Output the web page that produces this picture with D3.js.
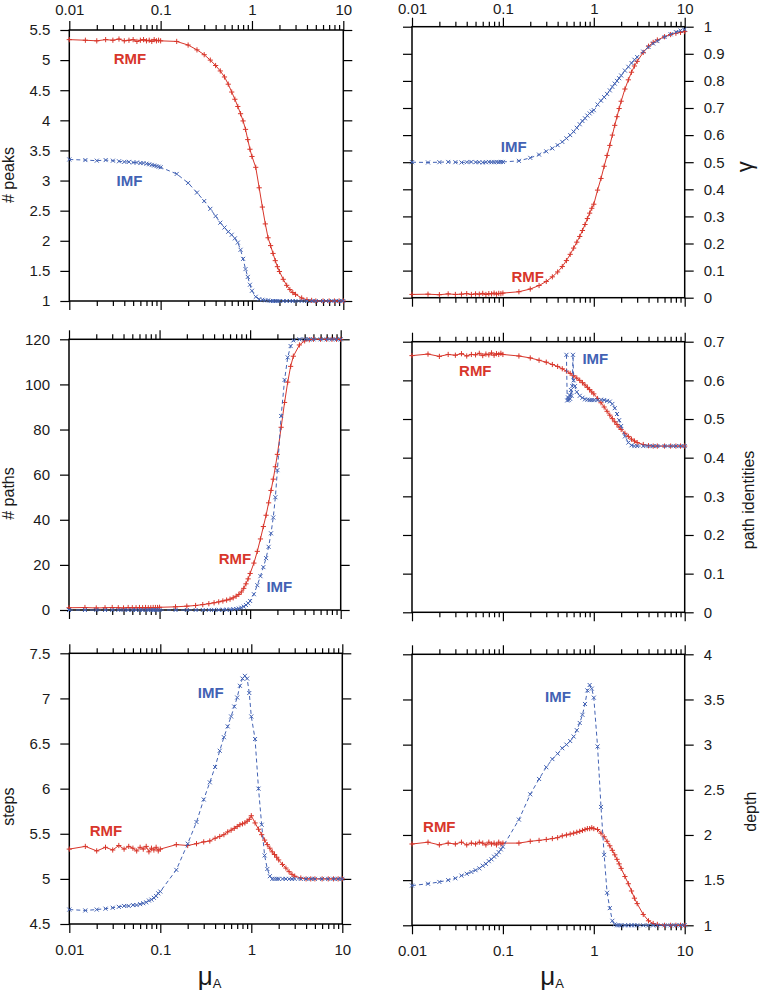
<!DOCTYPE html>
<html><head><meta charset="utf-8">
<script src="https://cdn.jsdelivr.net/npm/d3@7"></script>
<style>body{margin:0;background:#fff}svg{display:block}</style>
</head><body>
<svg id="c" width="764" height="993"></svg>
<script>
// ---------- data ----------
const mu = [0.01,0.015,0.02,0.025,0.03,0.035,0.04,0.045,0.05,0.055,0.06,0.065,0.07,0.075,0.08,0.085,0.09,0.095,
 0.1,0.15,0.2,0.25,0.3,0.35,0.4,0.45,0.5,0.55,0.6,0.65,0.7,0.75,0.8,0.85,0.9,0.95,
 1,1.1,1.2,1.3,1.4,1.5,1.6,1.7,1.8,1.9,2,2.2,2.4,2.6,2.8,3,3.5,4,4.5,5,6,7,8,9,10];

const peaksRMF = [5.34,5.33,5.32,5.34,5.33,5.35,5.32,5.33,5.34,5.31,5.33,5.34,5.32,5.33,5.31,5.34,5.32,5.33,
 5.32,5.31,5.25,5.17,5.09,5.00,4.91,4.82,4.72,4.60,4.47,4.35,4.23,4.11,3.99,3.85,3.68,3.52,
 3.40,3.22,2.88,2.56,2.28,2.05,1.92,1.79,1.67,1.57,1.49,1.36,1.26,1.19,1.14,1.11,1.05,1.02,1.01,1.0,1.0,1.0,1.0,1.0,1.0];
const peaksIMF = [3.35,3.34,3.33,3.34,3.33,3.32,3.31,3.31,3.30,3.30,3.29,3.29,3.28,3.27,3.26,3.25,3.24,3.23,
 3.22,3.11,2.96,2.80,2.66,2.53,2.41,2.30,2.22,2.15,2.10,2.04,1.97,1.85,1.70,1.53,1.40,1.27,
 1.17,1.07,1.03,1.02,1.01,1.01,1.0,1.0,1.0,1.0,1.0,1.0,1.0,1.0,1.0,1.0,1.0,1.0,1.0,1.0,1.0,1.0,1.0,1.0,1.0];

const gammaRMF = [0.012,0.013,0.011,0.014,0.012,0.013,0.015,0.012,0.014,0.013,0.016,0.012,0.015,0.014,0.017,0.013,0.016,0.015,
 0.017,0.022,0.032,0.045,0.060,0.077,0.095,0.115,0.137,0.160,0.183,0.205,0.226,0.248,0.270,0.292,0.312,0.330,
 0.345,0.397,0.440,0.485,0.525,0.562,0.600,0.636,0.668,0.698,0.725,0.770,0.804,0.832,0.855,0.872,0.905,0.928,0.942,0.951,0.963,0.971,0.976,0.979,0.982];
const gammaIMF = [0.500,0.499,0.500,0.501,0.500,0.499,0.500,0.501,0.500,0.500,0.499,0.500,0.501,0.500,0.500,0.501,0.500,0.501,
 0.501,0.505,0.516,0.528,0.540,0.551,0.563,0.575,0.588,0.600,0.613,0.627,0.640,0.652,0.662,0.672,0.680,0.687,
 0.692,0.713,0.727,0.740,0.752,0.765,0.778,0.790,0.800,0.810,0.820,0.838,0.852,0.866,0.878,0.888,0.908,0.925,0.938,0.947,0.962,0.972,0.980,0.986,0.990];

const pathsRMF = [1.0,1.1,0.9,1.0,1.1,1.0,0.9,1.1,1.0,1.0,1.1,1.0,1.1,1.0,1.0,1.1,1.1,1.1,
 1.2,1.4,1.7,2.0,2.4,2.8,3.2,3.6,4.0,4.4,4.8,5.4,6.1,6.9,8.0,9.6,11.6,13.8,
 16.2,20.8,26,31.5,37,42,47.5,53,58,63.5,69,81,92,101,108,112.5,117.5,119.3,119.8,120,120,120,120,120,120];
const pathsIMF = [0,0,0,0,0,0,0,0,0,0,0,0,0,0,0,0,0,0,
 0,0,0,0,0,0.02,0.04,0.06,0.1,0.15,0.22,0.32,0.45,0.65,1.0,1.5,2.2,3.0,
 4.0,7,11,15,19,23,28,34,41,50,62,86,102,112,117,119.5,120,120,120,120,120,120,120,120,120];

const pidRMF = [0.664,0.668,0.662,0.667,0.665,0.669,0.663,0.667,0.666,0.670,0.664,0.668,0.666,0.671,0.665,0.669,0.667,0.670,
 0.667,0.663,0.658,0.652,0.647,0.641,0.636,0.630,0.624,0.618,0.612,0.606,0.600,0.594,0.588,0.582,0.576,0.570,
 0.565,0.553,0.542,0.531,0.520,0.510,0.501,0.493,0.486,0.479,0.473,0.463,0.455,0.448,0.443,0.439,0.434,0.431,0.430,0.430,0.430,0.430,0.430,0.430,0.430];
const muPidIMF = [0.50,0.51,0.52,0.53,0.54,0.55,0.56,0.57,0.58,0.59,0.6,0.62,0.65,0.7,0.75,0.8,0.85,0.9,0.95,
 1,1.1,1.2,1.3,1.4,1.5,1.6,1.7,1.8,1.9,2,2.2,2.4,2.6,2.8,3,3.5,4,4.5,5,6,7,8,9,10];
const pidIMF = [0.666,0.548,0.556,0.549,0.562,0.552,0.575,0.560,0.585,0.666,0.600,0.585,0.570,0.560,0.555,0.551,0.550,0.549,0.549,
 0.549,0.549,0.550,0.549,0.547,0.545,0.539,0.528,0.513,0.497,0.482,0.455,0.439,0.432,0.430,0.430,0.430,0.430,0.430,0.430,0.430,0.430,0.430,0.430,0.430];

const stepsRMF = [5.33,5.36,5.31,5.35,5.32,5.37,5.33,5.36,5.34,5.31,5.35,5.33,5.36,5.30,5.34,5.32,5.35,5.31,
 5.33,5.38,5.37,5.39,5.41,5.42,5.45,5.47,5.49,5.52,5.54,5.56,5.58,5.60,5.61,5.62,5.64,5.66,
 5.70,5.62,5.55,5.49,5.43,5.38,5.34,5.30,5.27,5.24,5.21,5.16,5.12,5.08,5.05,5.03,5.01,5.0,5.0,5.0,5.0,5.0,5.0,5.0,5.0];
const stepsIMF = [4.66,4.65,4.66,4.67,4.68,4.69,4.70,4.70,4.71,4.71,4.72,4.73,4.74,4.76,4.77,4.79,4.81,4.84,
 4.86,5.10,5.39,5.63,5.88,6.07,6.24,6.42,6.57,6.69,6.80,6.91,7.01,7.14,7.22,7.25,7.22,7.06,
 6.80,6.55,6.00,5.60,5.26,5.11,5.03,5.00,5.0,5.0,5.0,5.0,5.0,5.0,5.0,5.0,5.0,5.0,5.0,5.0,5.0,5.0,5.0,5.0,5.0];

const depthRMF = [1.90,1.92,1.89,1.91,1.90,1.92,1.89,1.91,1.90,1.92,1.91,1.89,1.92,1.90,1.91,1.89,1.92,1.90,
 1.91,1.91,1.93,1.94,1.95,1.96,1.97,1.99,2.00,2.01,2.02,2.03,2.04,2.05,2.06,2.07,2.07,2.08,
 2.07,2.06,2.02,1.98,1.93,1.88,1.83,1.78,1.73,1.68,1.63,1.54,1.46,1.38,1.30,1.24,1.12,1.05,1.02,1.01,1.0,1.0,1.0,1.0,1.0];
const depthIMF = [1.44,1.46,1.48,1.50,1.52,1.55,1.57,1.59,1.61,1.63,1.66,1.68,1.71,1.73,1.76,1.78,1.81,1.84,
 1.87,2.17,2.45,2.62,2.75,2.84,2.90,2.96,3.00,3.04,3.09,3.16,3.24,3.33,3.45,3.60,3.66,3.62,
 3.52,2.98,2.31,1.78,1.36,1.19,1.05,1.01,1.0,1.0,1.0,1.0,1.0,1.0,1.0,1.0,1.0,1.0,1.0,1.0,1.0,1.0,1.0,1.0,1.0];

const xMajor = [0.01,0.1,1,10];
const xMajorLabels = ["0.01","0.1","1","10"];
const xMinor = [0.02,0.03,0.04,0.05,0.06,0.07,0.08,0.09,0.2,0.3,0.4,0.5,0.6,0.7,0.8,0.9,2,3,4,5,6,7,8,9];

const peaksTicks = [1,1.5,2,2.5,3,3.5,4,4.5,5,5.5];
const peaksTickLabels = ["1","1.5","2","2.5","3","3.5","4","4.5","5","5.5"];
const gammaTicks = [0,0.1,0.2,0.3,0.4,0.5,0.6,0.7,0.8,0.9,1];
const gammaTickLabels = ["0","0.1","0.2","0.3","0.4","0.5","0.6","0.7","0.8","0.9","1"];
const pathsTicks = [0,20,40,60,80,100,120];
const pathsTickLabels = ["0","20","40","60","80","100","120"];
const pidTicks = [0,0.1,0.2,0.3,0.4,0.5,0.6,0.7];
const pidTickLabels = ["0","0.1","0.2","0.3","0.4","0.5","0.6","0.7"];
const stepsTicks = [4.5,5,5.5,6,6.5,7,7.5];
const stepsTickLabels = ["4.5","5","5.5","6","6.5","7","7.5"];
const depthTicks = [1,1.5,2,2.5,3,3.5,4];
const depthTickLabels = ["1","1.5","2","2.5","3","3.5","4"];

// ---------- layout & drawing ----------
const RED = "#d8362b", BLUE = "#4262b4";
const FONT = "'Liberation Sans', Arial, Helvetica, sans-serif";
const svg = d3.select("#c");

const panels = [
 {x0:69.3,x1:343.3,y0:30,y1:301, dom:[1,5.5], ticks:peaksTicks, tl:peaksTickLabels, side:"left", xlab:"top", topPad:6,
  ylab:"# peaks", ylx:14, yly:175, yfs:16,
  series:[{x:mu,y:peaksRMF,c:"r"},{x:mu,y:peaksIMF,c:"b"}],
  labels:[{t:"RMF",x:130,y:58.5,c:RED},{t:"IMF",x:129.5,y:180,c:BLUE}]},
 {x0:412,x1:684.7,y0:26.7,y1:297.7, dom:[0,1], ticks:gammaTicks, tl:gammaTickLabels, side:"right", xlab:"top", topPad:3.5,
  ylab:"γ", ylx:751.5, yly:166.7, yfs:22,
  series:[{x:mu,y:gammaRMF,c:"r"},{x:mu,y:gammaIMF,c:"b"}],
  labels:[{t:"IMF",x:513.7,y:146.7,c:BLUE},{t:"RMF",x:527.7,y:276.7,c:RED}]},
 {x0:69,x1:340.7,y0:339.3,y1:610, dom:[0,120], ticks:pathsTicks, tl:pathsTickLabels, side:"left", xlab:null, topPad:6,
  ylab:"# paths", ylx:14, yly:493.5, yfs:16,
  series:[{x:mu,y:pathsRMF,c:"r"},{x:mu,y:pathsIMF,c:"b"}],
  labels:[{t:"RMF",x:235,y:558.3,c:RED},{t:"IMF",x:279.3,y:586.7,c:BLUE}]},
 {x0:412,x1:684.7,y0:341.7,y1:612.3, dom:[0,0.7], ticks:pidTicks, tl:pidTickLabels, side:"right", xlab:null, topPad:6,
  ylab:"path identities", ylx:754, yly:500, yfs:16,
  series:[{x:mu,y:pidRMF,c:"r"},{x:muPidIMF,y:pidIMF,c:"b"}],
  labels:[{t:"RMF",x:475.3,y:370,c:RED},{t:"IMF",x:595.3,y:358.3,c:BLUE}]},
 {x0:69.3,x1:342.3,y0:653.3,y1:924, dom:[4.5,7.5], ticks:stepsTicks, tl:stepsTickLabels, side:"left", xlab:"bottom", topPad:6,
  ylab:"steps", ylx:14, yly:806.7, yfs:16,
  series:[{x:mu,y:stepsRMF,c:"r"},{x:mu,y:stepsIMF,c:"b"}],
  labels:[{t:"IMF",x:210.7,y:692.7,c:BLUE},{t:"RMF",x:106,y:830,c:RED}]},
 {x0:412,x1:684.7,y0:654.3,y1:925.3, dom:[1,4], ticks:depthTicks, tl:depthTickLabels, side:"right", xlab:"bottom", topPad:6,
  ylab:"depth", ylx:756, yly:811.7, yfs:16,
  series:[{x:mu,y:depthRMF,c:"r"},{x:mu,y:depthIMF,c:"b"}],
  labels:[{t:"IMF",x:558,y:696,c:BLUE},{t:"RMF",x:439.3,y:826.7,c:RED}]}
];

function styleAxis(g){
  g.select(".domain").remove();
  g.attr("font-family", FONT).attr("font-size", 15);
  g.selectAll(".tick line").attr("stroke","#000").attr("stroke-width",1.2);
  g.selectAll(".tick text").attr("fill","#1a1a1a");
}

panels.forEach(p => {
  const x = d3.scaleLog().domain([0.01,10]).range([p.x0,p.x1]);
  const y = d3.scaleLinear().domain(p.dom).range([p.y1,p.y0]);
  const g = svg.append("g");

  // x axes (top and bottom), major + minor
  const fmtX = d => xMajorLabels[xMajor.indexOf(d)];
  g.append("g").attr("transform",`translate(0,${p.y0})`)
    .call(d3.axisTop(x).tickValues(xMajor).tickSize(9).tickPadding(p.topPad).tickFormat(p.xlab==="top"?fmtX:()=>""))
    .call(styleAxis);
  g.append("g").attr("transform",`translate(0,${p.y0})`)
    .call(d3.axisTop(x).tickValues(xMinor).tickSize(5).tickFormat(()=>"")).call(styleAxis);
  g.append("g").attr("transform",`translate(0,${p.y1})`)
    .call(d3.axisBottom(x).tickValues(xMajor).tickSize(9).tickPadding(11).tickFormat(p.xlab==="bottom"?fmtX:()=>""))
    .call(styleAxis);
  g.append("g").attr("transform",`translate(0,${p.y1})`)
    .call(d3.axisBottom(x).tickValues(xMinor).tickSize(5).tickFormat(()=>"")).call(styleAxis);

  // y axes (left and right)
  const fmtY = d => p.tl[p.ticks.indexOf(d)];
  g.append("g").attr("transform",`translate(${p.x0},0)`)
    .call(d3.axisLeft(y).tickValues(p.ticks).tickSize(9).tickPadding(10).tickFormat(p.side==="left"?fmtY:()=>""))
    .call(styleAxis);
  g.append("g").attr("transform",`translate(${p.x1},0)`)
    .call(d3.axisRight(y).tickValues(p.ticks).tickSize(9).tickPadding(10).tickFormat(p.side==="right"?fmtY:()=>""))
    .call(styleAxis);

  // frame
  g.append("rect").attr("x",p.x0).attr("y",p.y0).attr("width",p.x1-p.x0).attr("height",p.y1-p.y0)
    .attr("fill","none").attr("stroke","#000").attr("stroke-width",1.5);

  // series
  const line = d3.line().x(d=>x(d[0])).y(d=>y(d[1]));
  p.series.forEach(s => {
    const pts = s.x.map((v,i)=>[v,s.y[i]]);
    const col = s.c==="r"?RED:BLUE;
    g.append("path").datum(pts).attr("d",line).attr("fill","none").attr("stroke",col)
      .attr("stroke-width",1).attr("stroke-dasharray", s.c==="r"?null:"4,3");
    const mk = s.c==="r" ? "M-2.6,0H2.6M0,-2.6V2.6" : "M-2,-2L2,2M-2,2L2,-2";
    g.append("g").selectAll("path").data(pts).join("path")
      .attr("transform",d=>`translate(${x(d[0])},${y(d[1])})`)
      .attr("d",mk).attr("fill","none").attr("stroke",col).attr("stroke-width",1);
  });

  // series labels
  p.labels.forEach(l => {
    g.append("text").attr("x",l.x).attr("y",l.y).attr("text-anchor","middle").attr("dominant-baseline","central")
      .attr("font-family",FONT).attr("font-size",15).attr("font-weight","bold").attr("fill",l.c).text(l.t);
  });

  // y label
  g.append("text").attr("transform",`translate(${p.ylx},${p.yly}) rotate(-90)`).attr("text-anchor","middle")
    .attr("font-family",FONT).attr("font-size",p.yfs).attr("fill","#1a1a1a").text(p.ylab);

  // x label
  if (p.xlab==="bottom") {
    const cx = (p.x0+p.x1)/2;
    const t = g.append("text").attr("x",cx-8).attr("y",985).attr("font-family",FONT).attr("fill","#1a1a1a");
    t.append("tspan").attr("font-size",26).text("μ");
    t.append("tspan").attr("font-size",13).attr("dy",3).text("A");
  }
});
</script>
</body></html>
